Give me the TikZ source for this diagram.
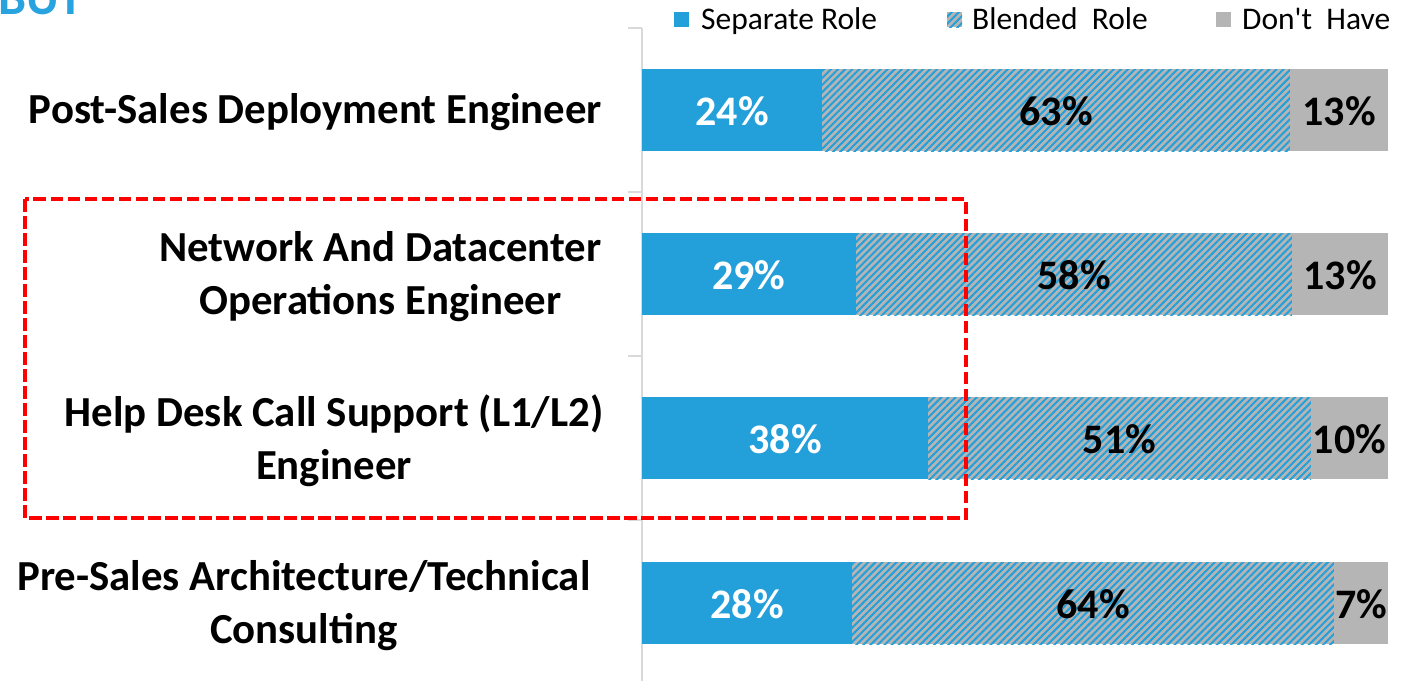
\documentclass[tikz,border=0pt]{standalone}
\usepackage{fontspec}
\setmainfont{Carlito}
\newfontfamily\legfont{Carlito}
\usetikzlibrary{patterns.meta}
\definecolor{sepblue}{HTML}{239FDA}
\definecolor{dhgray}{HTML}{B5B5B5}
\definecolor{titleblue}{HTML}{29A3E0}
\definecolor{axisgray}{HTML}{D9D9D9}
\definecolor{boxred}{HTML}{FF0000}
\tikzset{
  sepseg/.style={fill=sepblue},
  blendseg/.style={preaction={fill=dhgray}, pattern={Lines[angle=45,distance=5pt,line width=2pt]}, pattern color=sepblue},
  dhseg/.style={fill=dhgray},
  catlabel/.style={font=\bfseries\fontsize{42.8}{53}\selectfont, align=center, inner sep=0pt},
  pctw/.style={font=\bfseries\fontsize{42}{48}\selectfont, text=white, inner sep=0pt},
  pctb/.style={font=\bfseries\fontsize{42}{48}\selectfont, text=black, inner sep=0pt},
  legtext/.style={font=\legfont\fontsize{31.5}{36}\selectfont, anchor=base west, inner sep=0pt},
  axisline/.style={draw=axisgray, line width=2pt},
}
\begin{document}
\begin{tikzpicture}[x=1pt,y=-1pt]
\path[use as bounding box] (0,0) rectangle (1411,681);
\begin{scope}
\clip (0,0) rectangle (1411,681);
\node[anchor=base west, inner sep=0pt, font=\bfseries\fontsize{50}{60}\selectfont, text=titleblue] (title) at (-2,14) {BUT};
\end{scope}
% axis
\draw[axisline] (642,28) -- (642,681);
\foreach \ty in {28,192,356,520} \draw[axisline] (628,\ty) -- (642,\ty);
% legend
\fill[sepblue] (674,12) rectangle (689,27);
\node[legtext] (leg1) at (701,29) {Separate Role};
\fill[blendseg] (947,12) rectangle (962,27);
\node[legtext] (leg2) at (972,29) {Blended\ \ Role};
\fill[dhgray] (1216,12) rectangle (1231,27);
\node[legtext] (leg3) at (1242,29) {Don't\ \ Have};
% bars
\fill[sepseg] (642,69) rectangle (822,151);
\fill[blendseg] (822,69) rectangle (1290,151);
\fill[dhseg] (1290,69) rectangle (1388,151);
\fill[sepseg] (642,233) rectangle (856,315);
\fill[blendseg] (856,233) rectangle (1292,315);
\fill[dhseg] (1292,233) rectangle (1388,315);
\fill[sepseg] (642,397) rectangle (928,479);
\fill[blendseg] (928,397) rectangle (1311,479);
\fill[dhseg] (1311,397) rectangle (1388,479);
\fill[sepseg] (642,562) rectangle (852,644);
\fill[blendseg] (852,562) rectangle (1334,644);
\fill[dhseg] (1334,562) rectangle (1388,644);
% percentages
\node[pctw] (p11) at (732,111) {24\%};
\node[pctb] (p12) at (1056,111) {63\%};
\node[pctb] (p13) at (1339,111) {13\%};
\node[pctw] (p21) at (749,275) {29\%};
\node[pctb] (p22) at (1074,275) {58\%};
\node[pctb] (p23) at (1340,275) {13\%};
\node[pctw] (p31) at (785,439) {38\%};
\node[pctb] (p32) at (1119.5,439) {51\%};
\node[pctb] (p33) at (1349.5,439) {10\%};
\node[pctw] (p41) at (747,604) {28\%};
\node[pctb] (p42) at (1093,604) {64\%};
\node[pctb] (p43) at (1361,604) {7\%};
% category labels
\node[catlabel] (c1) at (315.5,112.5) {Post-Sales Deployment Engineer};
\node[catlabel] (c2) at (380.5,276.5) {Network And Datacenter\\Operations Engineer};
\node[catlabel] (c3) at (334,440.5) {Help Desk Call Support (L1/L2)\\Engineer};
\node[catlabel] (c4) at (304,605.5) {Pre-Sales Architecture/Technical\\Consulting};
% highlight box
\draw[boxred, line width=3.5pt, dash pattern=on 12.5pt off 4.5pt] (25,199) rectangle (966,518);
\end{tikzpicture}
\end{document}
